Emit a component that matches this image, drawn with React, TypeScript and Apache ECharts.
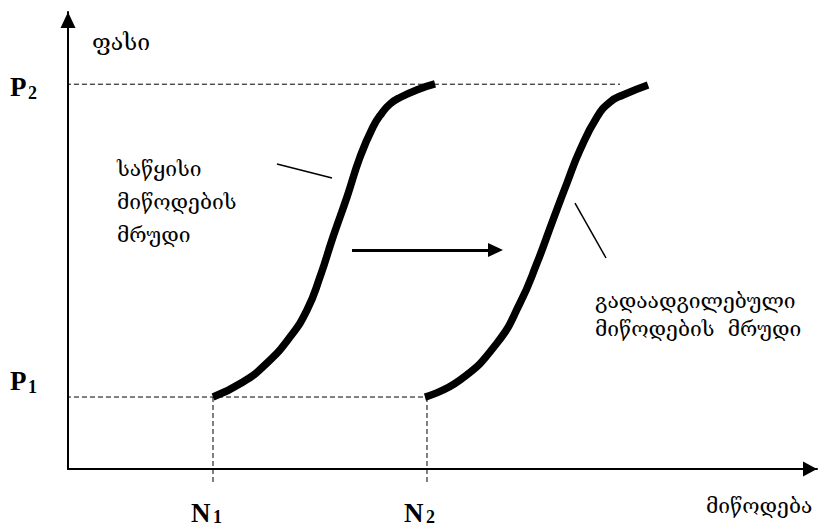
import React, { useEffect, useRef } from "react";
import * as echarts from "echarts";

// Conceptual diagram: units 0..100 on both axes
const curve1X = [19.36, 23.36, 26.57, 29.64, 31.91, 33.64, 35.38, 37.25, 38.99, 40.72, 41.92, 42.99, 44.33, 46.73, 49.0];
const curve1Y = [15.75, 19.04, 23.19, 28.88, 34.79, 42.01, 50.77, 59.52, 68.27, 74.84, 77.9, 79.87, 81.29, 83.04, 84.25];
const curve2X = [47.66, 52.34, 57.28, 60.35, 62.62, 64.75, 66.62, 68.36, 70.63, 72.36, 74.1, 77.44];
const curve2Y = [15.75, 19.47, 27.57, 36.32, 45.08, 54.49, 62.58, 69.8, 77.02, 80.3, 81.84, 84.03];

const priceLevels = [15.75, 84.2]; // P1, P2
const quantityLevels = [19.36, 47.93]; // N1, N2
const p2DashEnd = 73.7;
const dashStart = -1.34;
const dashBottom = -2.84;

const leader1 = [[27.9, 66.74], [35.25, 63.68]];
const leader2 = [[67.69, 58.2], [71.83, 46.17]];
const shiftArrow = [[37.92, 47.92], [57.08, 47.92]];

const yAxisTitle = "ფასი";
const xAxisTitle = "მიწოდება";
const initialLabel = ["საწყისი", "მიწოდების", "მრუდი"];
const shiftedLabel = ["გადაადგილებული", "მიწოდების  მრუდი"];

const GEO_FONT = "'DejaVu Serif', 'DejaVu Sans', serif";
const LAT_FONT = "'Liberation Serif', 'Times New Roman', serif";

export default function App() {
  const ref = useRef<HTMLDivElement>(null);
  useEffect(() => {
    if (!ref.current) return;
    const chart = echarts.init(ref.current, null, { renderer: "svg" });
    const zip = (xs: number[], ys: number[]) => xs.map((x, i) => [x, ys[i]]);
    const dashStyle = { color: "#000", width: 1, type: [5, 3] as any };
    const dashSeries = (data: number[][]) => ({
      type: "line",
      data,
      symbol: "none",
      clip: false,
      silent: true,
      lineStyle: dashStyle,
      z: 1,
    });
    const thinSeries = (data: number[][]) => ({
      type: "line",
      data,
      symbol: "none",
      clip: false,
      silent: true,
      lineStyle: { color: "#000", width: 1.5 },
      z: 2,
    });
    const curveSeries = (data: number[][]) => ({
      type: "line",
      data,
      symbol: "none",
      smooth: 0.5,
      clip: false,
      silent: true,
      lineStyle: { color: "#000", width: 7.5, cap: "butt", join: "round" },
      z: 3,
    });

    const latText = (txt: string, x: number, y: number, size: number) => ({
      type: "text",
      x,
      y,
      style: {
        text: txt,
        fill: "#000",
        font: `bold ${size}px ${LAT_FONT}`,
        textAlign: "left",
        textVerticalAlign: "middle",
      },
    });
    const geoText = (txt: string, x: number, y: number, size = 21) => ({
      type: "text",
      x,
      y,
      style: {
        text: txt,
        fill: "#000",
        font: `${size}px ${GEO_FONT}`,
        textAlign: "left",
        textVerticalAlign: "middle",
      },
    });

    chart.setOption({
      animation: false,
      grid: { left: 68, right: 1, top: 12, bottom: 59 },
      xAxis: {
        type: "value",
        min: 0,
        max: 100,
        axisLine: {
          show: true,
          onZero: false,
          symbol: ["none", "triangle"],
          symbolSize: [15, 14],
          symbolOffset: [0, -7],
          lineStyle: { color: "#000", width: 2 },
        },
        axisTick: { show: false },
        axisLabel: { show: false },
        splitLine: { show: false },
      },
      yAxis: {
        type: "value",
        min: 0,
        max: 100,
        axisLine: {
          show: true,
          onZero: false,
          symbol: ["none", "triangle"],
          symbolSize: [15, 16],
          symbolOffset: [0, -8],
          lineStyle: { color: "#000", width: 2 },
        },
        axisTick: { show: false },
        axisLabel: { show: false },
        splitLine: { show: false },
      },
      series: [
        dashSeries([[dashStart, priceLevels[1]], [p2DashEnd, priceLevels[1]]]),
        dashSeries([[dashStart, priceLevels[0]], [quantityLevels[1], priceLevels[0]]]),
        dashSeries([[quantityLevels[0], priceLevels[0]], [quantityLevels[0], dashBottom]]),
        dashSeries([[quantityLevels[1], priceLevels[0]], [quantityLevels[1], dashBottom]]),
        thinSeries(leader1),
        thinSeries(leader2),
        {
          type: "line",
          data: [],
          symbol: "none",
          silent: true,
          markLine: {
            silent: true,
            symbol: ["none", "triangle"],
            symbolSize: [14, 15],
            label: { show: false },
            emphasis: { disabled: true },
            lineStyle: { color: "#000", width: 3, type: "solid" },
            data: [[{ coord: shiftArrow[0] }, { coord: shiftArrow[1] }]],
          },
        },
        curveSeries(zip(curve1X, curve1Y)),
        curveSeries(zip(curve2X, curve2Y)),
      ],
      graphic: [
        geoText(yAxisTitle, 92, 42, 23),
        geoText(initialLabel[0], 117, 169),
        geoText(initialLabel[1], 117, 202),
        geoText(initialLabel[2], 117, 235),
        geoText(shiftedLabel[0], 595, 301),
        geoText(shiftedLabel[1], 595, 329),
        geoText(xAxisTitle, 706, 506),
        latText("P", 10, 87, 27),
        latText("2", 28, 93, 18),
        latText("P", 10, 381, 27),
        latText("1", 28, 387, 18),
        latText("N", 191, 513, 27),
        latText("1", 213, 517, 18),
        latText("N", 404, 513, 27),
        latText("2", 426, 517, 18),
      ],
    });
    return () => chart.dispose();
  }, []);
  return (
    <div
      ref={ref}
      style={{ position: "fixed", left: 0, top: 0, width: 818, height: 528, background: "#fff" }}
    />
  );
}
